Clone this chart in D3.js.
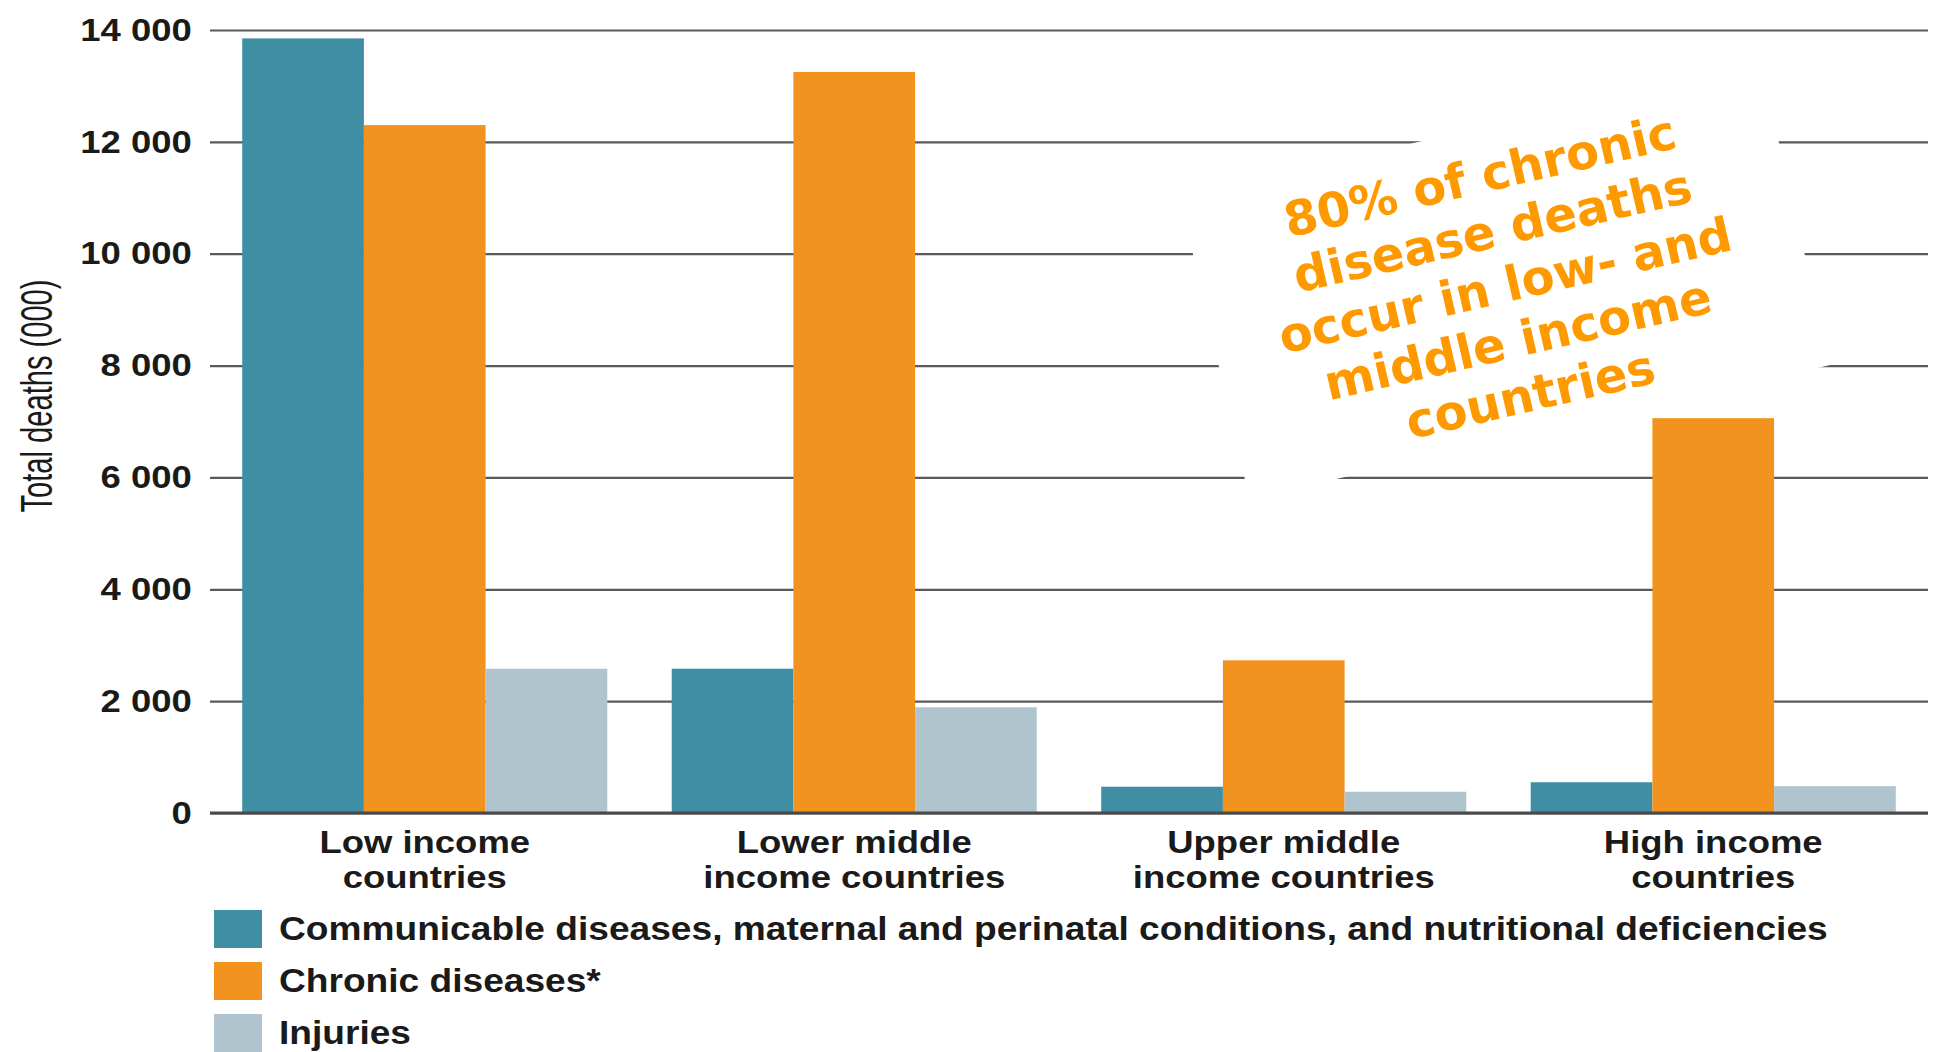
<!DOCTYPE html>
<html>
<head>
<meta charset="utf-8">
<script src="https://cdn.jsdelivr.net/npm/d3@7"></script>
<style>
  html, body { margin: 0; padding: 0; background: #ffffff; overflow: hidden; }
  svg { display: block; }
</style>
</head>
<body>
<svg id="chart" width="1934" height="1052"></svg>
<script>
// ---------- data ----------
const categoryLine1 = ["Low income", "Lower middle", "Upper middle", "High income"];
const categoryLine2 = ["countries", "income countries", "income countries", "countries"];
const seriesNames = [
  "Communicable diseases, maternal and perinatal conditions, and nutritional deficiencies",
  "Chronic diseases*",
  "Injuries"
];
const communicable = [13850, 2580, 470, 550];
const chronic = [12300, 13250, 2730, 7060];
const injuries = [2580, 1890, 380, 480];
const yTickValues = [0, 2000, 4000, 6000, 8000, 10000, 12000, 14000];
const yTickLabels = ["0", "2 000", "4 000", "6 000", "8 000", "10 000", "12 000", "14 000"];
const yAxisTitle = "Total deaths (000)";
const annotationLines = ["80% of chronic", "disease deaths", "occur in low- and", "middle income", "countries"];
const seriesColors = ["#3f8ea3", "#f3931f", "#b0c4ce"];

// ---------- layout ----------
const svg = d3.select("#chart");
const plotLeft = 210, plotRight = 1928, plotTop = 30, plotBottom = 813;
const textColor = "#1a1a1a";
const sx = 1.14; // horizontal stretch of the original artwork's lettering

const table = categoryLine1.map((c, i) => ({
  key: c,
  values: [communicable[i], chronic[i], injuries[i]]
}));

const x0 = d3.scaleBand().domain(categoryLine1).range([plotLeft, plotRight])
  .paddingInner(0.15).paddingOuter(0.075);
const x1 = d3.scaleBand().domain(d3.range(seriesNames.length)).range([0, x0.bandwidth()]).padding(0);
const y = d3.scaleLinear().domain([0, 14000]).range([plotBottom, plotTop]);

// ---------- grid + y axis ----------
const yAxis = d3.axisLeft(y)
  .tickValues(yTickValues)
  .tickFormat((d, i) => yTickLabels[i])
  .tickSize(-(plotRight - plotLeft))
  .tickPadding(16);

const gAxis = svg.append("g")
  .attr("transform", `translate(${plotLeft},0)`)
  .call(yAxis);
gAxis.select(".domain").remove();
gAxis.selectAll(".tick line")
  .attr("stroke", "#5a5a5a")
  .attr("stroke-width", 2.2);
gAxis.selectAll(".tick text")
  .attr("fill", textColor)
  .attr("font-family", "'Liberation Sans', Arial, sans-serif")
  .attr("font-weight", "bold")
  .attr("font-size", 32)
  .attr("transform", `scale(${sx},1)`);

// ---------- annotation background (white rotated panel) ----------
const annCx = 1505, annCy = 281, annAngle = -13;
const annG = svg.append("g")
  .attr("transform", `translate(${annCx},${annCy}) rotate(${annAngle})`);
annG.append("rect")
  .attr("x", -298).attr("y", -155)
  .attr("width", 596).attr("height", 310)
  .attr("fill", "#ffffff");

// ---------- bars ----------
const groups = svg.append("g").selectAll("g")
  .data(table)
  .join("g")
  .attr("transform", d => `translate(${x0(d.key)},0)`);

groups.selectAll("rect")
  .data(d => d.values.map((v, i) => ({ i, v })))
  .join("rect")
  .attr("x", d => x1(d.i))
  .attr("width", x1.bandwidth())
  .attr("y", d => y(d.v))
  .attr("height", d => y(0) - y(d.v))
  .attr("fill", d => seriesColors[d.i]);

// baseline
svg.append("line")
  .attr("x1", plotLeft).attr("x2", plotRight)
  .attr("y1", y(0)).attr("y2", y(0))
  .attr("stroke", "#4a4a4a")
  .attr("stroke-width", 3.2);

// ---------- category labels ----------
const catG = svg.append("g");
categoryLine1.forEach((c, i) => {
  const cx = x0(c) + x0.bandwidth() / 2;
  [categoryLine1[i], categoryLine2[i]].forEach((t, k) => {
    catG.append("text")
      .attr("transform", `translate(${cx},${853 + k * 35}) scale(${sx},1)`)
      .attr("text-anchor", "middle")
      .attr("font-family", "'Liberation Sans', Arial, sans-serif")
      .attr("font-weight", "bold")
      .attr("font-size", 32)
      .attr("fill", textColor)
      .text(t);
  });
});

// ---------- y axis title ----------
svg.append("text")
  .attr("transform", "translate(52,396) rotate(-90)")
  .attr("text-anchor", "middle")
  .attr("font-family", "'Liberation Sans Narrow', 'Liberation Sans', Arial, sans-serif")
  .attr("font-size", 44)
  .attr("textLength", 233)
  .attr("lengthAdjust", "spacingAndGlyphs")
  .attr("fill", textColor)
  .text(yAxisTitle);

// ---------- legend ----------
const legend = svg.append("g").attr("transform", "translate(214,910)");
const legItems = legend.selectAll("g")
  .data(seriesNames)
  .join("g")
  .attr("transform", (d, i) => `translate(0,${i * 52})`);
legItems.append("rect")
  .attr("width", 48).attr("height", 38)
  .attr("fill", (d, i) => seriesColors[i]);
legItems.append("text")
  .attr("transform", `translate(65,30) scale(1.125,1)`)
  .attr("font-family", "'Liberation Sans', Arial, sans-serif")
  .attr("font-weight", "bold")
  .attr("font-size", 33)
  .attr("fill", textColor)
  .text(d => d);

// ---------- annotation text ----------
const annText = svg.append("g")
  .attr("transform", `translate(${annCx},${annCy + 4}) rotate(${annAngle})`);
annText.selectAll("text")
  .data(annotationLines)
  .join("text")
  .attr("x", 0)
  .attr("y", (d, i) => (i - 2) * 56)
  .attr("text-anchor", "middle")
  .attr("dominant-baseline", "central")
  .attr("font-family", "'DejaVu Sans', Verdana, sans-serif")
  .attr("font-weight", "bold")
  .attr("font-size", 48)
  .attr("fill", "#ff9900")
  .text(d => d);
</script>
</body>
</html>
